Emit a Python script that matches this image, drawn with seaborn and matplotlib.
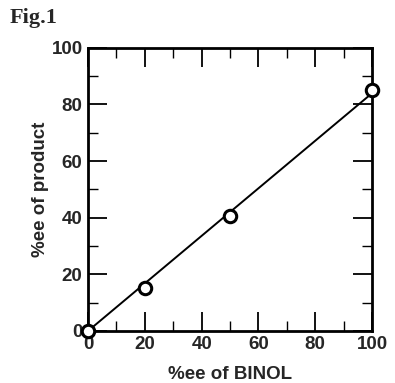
import matplotlib
matplotlib.use("Agg")
import matplotlib.pyplot as plt
import seaborn as sns
import pandas as pd
from matplotlib.ticker import MultipleLocator

sns.set_style("ticks")
plt.rcParams['font.family'] = ['Liberation Sans', 'DejaVu Sans']

binol_ee = [0, 20, 50, 100]
product_ee = [0, 15, 40.5, 85]
fit_x = [0, 100]
fit_y = [0, 84]

df = pd.DataFrame({"binol": binol_ee, "product": product_ee})
fit = pd.DataFrame({"binol": fit_x, "product": fit_y})

fig = plt.figure(figsize=(3.95, 3.83), dpi=100)
ax = fig.add_axes([0.223, 0.136, 0.719, 0.739])

sns.lineplot(data=fit, x="binol", y="product", ax=ax, color="black", lw=1.4)
sns.scatterplot(data=df, x="binol", y="product", ax=ax, s=80, facecolor="white",
                edgecolor="black", linewidth=2.2, marker="o", zorder=5, clip_on=False)

ax.set_xlim(0, 100)
ax.set_ylim(0, 100)
ax.xaxis.set_major_locator(MultipleLocator(20))
ax.yaxis.set_major_locator(MultipleLocator(20))
ax.xaxis.set_minor_locator(MultipleLocator(10))
ax.yaxis.set_minor_locator(MultipleLocator(10))
ax.tick_params(which="both", direction="in", top=True, right=True, color="black")
ax.tick_params(which="major", length=14, width=1.3, labelsize=13.5, pad=4)
ax.tick_params(which="minor", length=7, width=1.0)
for lab in ax.get_xticklabels() + ax.get_yticklabels():
    lab.set_fontweight("bold")
for sp in ax.spines.values():
    sp.set_linewidth(2)
    sp.set_color("black")

ax.set_xlabel("%ee of BINOL", fontsize=13.5, fontweight="bold", labelpad=9)
ax.set_ylabel("%ee of product", fontsize=13.5, fontweight="bold", labelpad=2)
fig.text(0.025, 0.952, "Fig.1", family="Liberation Serif", fontsize=16,
         fontweight="bold", va="center", ha="left")

fig.savefig("out.png", dpi=100, facecolor="white")
